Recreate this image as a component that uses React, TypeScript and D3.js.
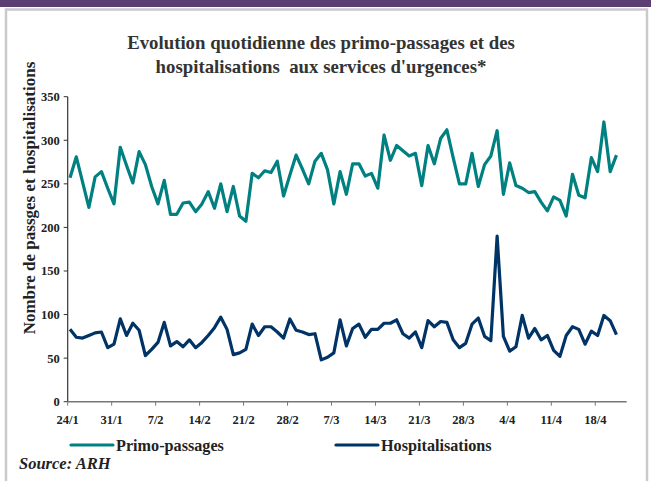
import * as d3 from "d3";

const width = 651;
const height = 481;

// one value per day, from 24/1 to 20/4
const primoPassages = [
  257, 281, 252, 223, 258, 264, 245, 227, 292, 271,
  251, 287, 272, 247, 227, 254, 215, 215, 228, 229,
  218, 227, 241, 222, 250, 218, 247, 213, 207, 262,
  257, 265, 263, 276, 236, 260, 283, 267, 250, 276,
  285, 266, 227, 264, 238, 273, 273, 259, 262, 245,
  306, 277, 294, 288, 282, 285, 248, 294, 273, 302,
  312, 280, 250, 250, 285, 247, 272, 282, 311, 238,
  274, 248, 245, 240, 241, 229, 219, 235, 231, 213,
  261, 237, 234, 280, 264, 321, 264, 283,
];

const hospitalisations = [
  83, 74, 73, 76, 79, 80, 62, 66, 95, 76,
  90, 82, 53, 60, 68, 91, 64, 69, 63, 71,
  62, 68, 76, 85, 97, 83, 54, 56, 60, 89,
  76, 86, 86, 80, 73, 95, 82, 80, 77, 78,
  48, 51, 56, 94, 64, 84, 89, 74, 83, 83,
  90, 90, 94, 78, 73, 80, 62, 93, 86, 92,
  91, 71, 62, 67, 89, 96, 75, 70, 190, 75,
  58, 63, 99, 73, 84, 71, 76, 59, 52, 76,
  86, 83, 66, 81, 76, 99, 93, 77,
];

const weekLabels = [
  "24/1", "31/1", "7/2", "14/2", "21/2", "28/2", "7/3",
  "14/3", "21/3", "28/3", "4/4", "11/4", "18/4",
];

const yTicks = [0, 50, 100, 150, 200, 250, 300, 350];

const font = "'Liberation Serif', 'Times New Roman', serif";
const green = "#008080";
const navy = "#003366";

export default function App() {
  const x = d3.scaleLinear().domain([0, 89]).range([67.7, 626.7]);
  const y = d3.scaleLinear().domain([0, 350]).range([401.7, 96.7]);

  const line = d3
    .line<number>()
    .x((_, i) => x(i + 0.37))
    .y((d) => y(d));

  const series = [
    { name: "Primo-passages", values: primoPassages, color: green, lx: 71 },
    { name: "Hospitalisations", values: hospitalisations, color: navy, lx: 336 },
  ];

  return (
    <svg
      width={width}
      height={height}
      style={{ position: "absolute", left: 0, top: 0, background: "#fff" }}
      fontFamily={font}
    >
      <defs>
        <clipPath id="cutLabels" clipPathUnits="userSpaceOnUse">
          <rect x={0} y={415.5} width={width} height={30} />
        </clipPath>
      </defs>

      {/* page frame */}
      <rect x={0} y={0} width={width} height={7} fill="#5a4072" />
      <rect
        x={6}
        y={9.5}
        width={641}
        height={480}
        fill="none"
        stroke="#cacaca"
        strokeWidth={2.5}
      />

      <text textAnchor="middle" fontWeight="bold" fontSize={18.8} fill="#333">
        <tspan x={321} y={49}>
          Evolution quotidienne des primo-passages et des
        </tspan>
        <tspan x={321} y={73} style={{ whiteSpace: "pre" }}>
          {"hospitalisations  aux services d'urgences*"}
        </tspan>
      </text>

      <text
        transform="translate(35,198) rotate(-90)"
        textAnchor="middle"
        fontWeight="bold"
        fontSize={17}
        fill="#222"
      >
        Nombre de passges et hospitalisations
      </text>

      {/* y axis */}
      <line x1={x(0)} x2={x(0)} y1={y(350)} y2={y(0)} stroke="#333" strokeWidth={1.2} />
      {yTicks.map((t) => (
        <g key={t} transform={`translate(0,${y(t)})`}>
          <line x1={x(0) - 4} x2={x(0)} stroke="#333" />
          <text
            x={x(0) - 8}
            dy="0.35em"
            textAnchor="end"
            fontWeight="bold"
            fontSize={12.5}
            fill="#222"
          >
            {t}
          </text>
        </g>
      ))}

      {/* x axis */}
      <line x1={x(0)} x2={x(89)} y1={y(0)} y2={y(0)} stroke="#777" strokeWidth={1.5} />
      {weekLabels.map((label, k) => (
        <line
          key={label}
          x1={x(k * 7)}
          x2={x(k * 7)}
          y1={y(0)}
          y2={y(0) + 4}
          stroke="#777"
        />
      ))}
      <g clipPath="url(#cutLabels)">
        {weekLabels.slice(0, 11).map((label, k) => (
          <text
            key={label}
            x={x(k * 7)}
            y={423.5}
            textAnchor="middle"
            fontWeight="bold"
            fontSize={12.5}
            fill="#222"
          >
            {label}
          </text>
        ))}
      </g>
      {weekLabels.slice(11).map((label, k) => (
        <text
          key={label}
          x={x((k + 11) * 7)}
          y={423.5}
          textAnchor="middle"
          fontWeight="bold"
          fontSize={12.5}
          fill="#222"
        >
          {label}
        </text>
      ))}

      {series.map((s) => (
        <path
          key={s.name}
          d={line(s.values) ?? ""}
          fill="none"
          stroke={s.color}
          strokeWidth={3.2}
          strokeLinejoin="round"
        />
      ))}

      {/* legend */}
      {series.map((s) => (
        <g key={s.name} transform={`translate(${s.lx},445)`}>
          <line x1={0} x2={42} stroke={s.color} strokeWidth={3.2} strokeLinecap="round" />
          <text x={45} y={5.5} fontWeight="bold" fontSize={16.2} fill="#222">
            {s.name}
          </text>
        </g>
      ))}

      <text
        x={19}
        y={469}
        fontWeight="bold"
        fontStyle="italic"
        fontSize={16.5}
        fill="#222"
      >
        Source: ARH
      </text>
    </svg>
  );
}
